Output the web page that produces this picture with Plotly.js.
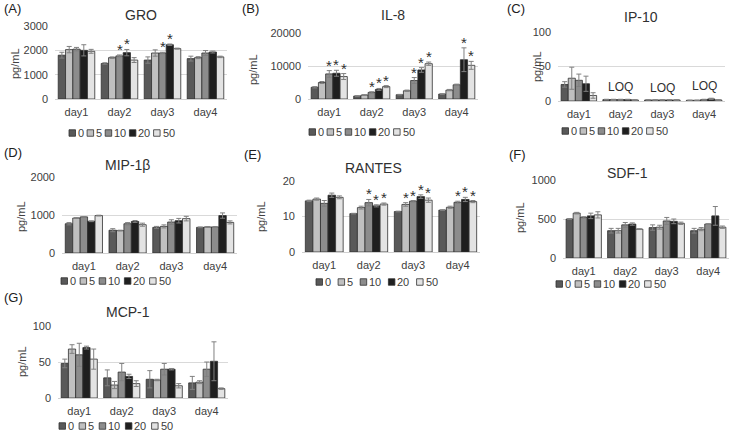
<!DOCTYPE html>
<html><head><meta charset="utf-8">
<script src="https://cdn.plot.ly/plotly-3.0.1.min.js"></script>
<style>html,body{margin:0;padding:0;background:#fff}#chart{width:731px;height:436px}</style>
</head><body><div id="chart"></div>
<script>
// ---------- DATA (rows = days, columns = doses) ----------
const days = ['day1', 'day2', 'day3', 'day4'];
const doses = ['0', '5', '10', '20', '50'];

const groMean = [[1800, 2030, 2050, 2000, 1960], [1460, 1700, 1770, 1905, 1600], [1600, 1890, 1890, 2230, 2070], [1660, 1700, 1890, 1930, 1730]];
const groErr  = [[120, 130, 70, 230, 80], [30, 30, 40, 130, 100], [130, 130, 30, 30, 20], [100, 40, 100, 40, 30]];
const groSig  = [[0, 0, 0, 0, 0], [0, 0, 1, 1, 0], [0, 0, 1, 1, 0], [0, 0, 0, 0, 0]];

const il8Mean = [[3550, 5000, 7600, 7800, 6800], [900, 1200, 2000, 2900, 3750], [1300, 2500, 5600, 8800, 10700], [1500, 2700, 4300, 11900, 10200]];
const il8Err  = [[200, 300, 1000, 900, 900], [100, 100, 200, 300, 300], [100, 200, 900, 700, 500], [100, 200, 200, 3600, 1200]];
const il8Sig  = [[0, 0, 1, 1, 1], [0, 0, 1, 1, 1], [0, 0, 1, 1, 1], [0, 0, 0, 1, 1]];

const ip10Mean = [[24, 33, 30, 25, 8], [2, 2, 2, 2, 1.5], [1.5, 1.5, 1.5, 1.5, 1.5], [1, 1, 2, 3, 1.5]];
const ip10Err  = [[4, 16, 9, 11, 4], [0.5, 0.5, 0.5, 0.5, 0.3], [0.3, 0.3, 0.3, 0.3, 0.3], [0.3, 0.3, 0.5, 1, 0.3]];
const ip10Sig  = [[0, 0, 0, 0, 0], [0, 0, 0, 0, 0], [0, 0, 0, 0, 0], [0, 0, 0, 0, 0]];
const ip10Notes = ['', 'LOQ', 'LOQ', 'LOQ'];

const mipMean = [[770, 920, 950, 835, 985], [600, 590, 770, 830, 745], [675, 700, 815, 850, 905], [675, 685, 685, 985, 805]];
const mipErr  = [[30, 10, 10, 10, 10], [40, 10, 30, 25, 40], [25, 40, 60, 60, 60], [10, 10, 10, 70, 40]];
const mipSig  = [[0, 0, 0, 0, 0], [0, 0, 0, 0, 0], [0, 0, 0, 0, 0], [0, 0, 0, 0, 0]];

const rantesMean = [[14.4, 14.9, 13.7, 16.0, 15.4], [10.8, 12.5, 13.9, 13.0, 13.5], [11.4, 13.4, 14.3, 15.6, 14.6], [11.8, 12.6, 14.0, 14.8, 14.2]];
const rantesErr  = [[0.2, 0.3, 0.8, 0.6, 0.4], [0.1, 0.4, 0.9, 0.3, 0.3], [0.1, 0.5, 0.2, 0.5, 0.6], [0.1, 0.3, 0.3, 0.6, 0.3]];
const rantesSig  = [[0, 0, 0, 0, 0], [0, 0, 1, 1, 1], [0, 1, 1, 1, 1], [0, 0, 1, 1, 1]];

const sdfMean = [[500, 575, 520, 540, 553], [350, 350, 425, 435, 370], [390, 395, 475, 470, 445], [350, 370, 435, 540, 395]];
const sdfErr  = [[5, 10, 10, 35, 40], [30, 30, 30, 15, 5], [35, 25, 45, 30, 15], [30, 20, 5, 120, 15]];
const sdfSig  = [[0, 0, 0, 0, 0], [0, 0, 0, 0, 0], [0, 0, 0, 0, 0], [0, 0, 0, 0, 0]];

const mcpMean = [[48, 68, 60, 70, 54], [28, 18, 36, 30, 20], [26, 25, 40, 40, 17], [21, 22, 40, 51, 13]];
const mcpErr  = [[6, 6, 16, 2, 14], [11, 5, 12, 3, 4], [12, 1, 8, 1, 3], [9, 2, 10, 27, 1]];
const mcpSig  = [[0, 0, 0, 0, 0], [0, 0, 0, 0, 0], [0, 0, 0, 0, 0], [0, 0, 0, 0, 0]];

const panelNames  = ['GRO', 'IL-8', 'IP-10', 'MIP-1β', 'RANTES', 'SDF-1', 'MCP-1'];
const panelLabels = ['(A)', '(B)', '(C)', '(D)', '(E)', '(F)', '(G)'];
const yRanges = [[0, 3000], [0, 20000], [0, 100], [0, 2000], [0, 20], [0, 1000], [0, 100]];
const yDticks = [1000, 10000, 50, 1000, 10, 500, 50];
const unit = 'pg/mL';

// ---------- STYLE / LAYOUT ----------
const W = 731, H = 436;
const FONT = 'Liberation Sans, Arial, sans-serif';
const TXT = '#404040';
const doseColors = ['#595959', '#c0c0c0', '#8c8c8c', '#1f1f1f', '#e3e3e3'];
const BARGAP = 0.15;
const px = x => x / W, py = y => 1 - y / H;

// pixel boxes: plot [left,right,top,bottom], title [x,y], label [x,y], ytitle [x,y], legend [x,y], legend spacing
const geom = [
  {box: [55, 227, 26, 99],   title: [141, 15], lab: [2, 8],     yt: [15, 64],  leg: [69, 133],  gap: 4},
  {box: [308, 478, 33, 99],  title: [393, 15], lab: [240, 8],   yt: [253, 70], leg: [309, 132], gap: 4},
  {box: [558, 725, 32, 101], title: [641, 17], lab: [505, 8],   yt: [537, 67], leg: [562, 131], gap: 4},
  {box: [62, 237, 177, 253], title: [127, 165], lab: [2, 152],  yt: [21, 217], leg: [61, 281],  gap: 5},
  {box: [302, 480, 181, 252], title: [373, 168], lab: [242, 154], yt: [261, 217], leg: [316, 282], gap: 8},
  {box: [563, 729, 180, 258], title: [627, 173], lab: [507, 155], yt: [520, 218], leg: [556, 284], gap: 5},
  {box: [58, 228, 326, 398], title: [128, 312], lab: [2, 297],  yt: [22, 362], leg: [59, 426],  gap: 6}
];

const means = [groMean, il8Mean, ip10Mean, mipMean, rantesMean, sdfMean, mcpMean];
const errs  = [groErr, il8Err, ip10Err, mipErr, rantesErr, sdfErr, mcpErr];
const sigs  = [groSig, il8Sig, ip10Sig, mipSig, rantesSig, sdfSig, mcpSig];

const traces = [];
const annotations = [];
const shapes = [];
const layout = {
  width: W, height: H, margin: {l: 0, r: 0, t: 0, b: 0},
  paper_bgcolor: '#fff', plot_bgcolor: '#fff',
  barmode: 'group', bargap: BARGAP, bargroupgap: 0,
  showlegend: false,
  font: {family: FONT, color: TXT, size: 11},
  annotations: annotations, shapes: shapes
};

const barW = (1 - BARGAP) / doses.length;
const offsetOf = i => -(1 - BARGAP) / 2 + barW * (i + 0.5);

for (let k = 0; k < 7; k++) {
  const n = k + 1;
  const g = geom[k];
  const xa = 'x' + (n === 1 ? '' : n), ya = 'y' + (n === 1 ? '' : n);
  const xk = 'xaxis' + (n === 1 ? '' : n), yk = 'yaxis' + (n === 1 ? '' : n);
  layout[xk] = {
    domain: [px(g.box[0]), px(g.box[1])], anchor: ya,
    type: 'category', categoryorder: 'array', categoryarray: days,
    showline: true, linecolor: '#d0d0d0', linewidth: 1,
    ticks: '', showgrid: false, zeroline: false,
    tickfont: {size: 11, color: TXT, family: FONT}, ticklabelstandoff: 3, fixedrange: true
  };
  layout[yk] = {
    domain: [py(g.box[3]), py(g.box[2])], anchor: xa,
    range: yRanges[k], dtick: yDticks[k], tick0: 0, tickformat: 'd',
    showgrid: true, gridcolor: '#d9d9d9', gridwidth: 1, zeroline: false, showline: false,
    ticks: '', tickfont: {size: 11, color: TXT, family: FONT}, ticklabelstandoff: 6, fixedrange: true
  };
  for (let i = 0; i < doses.length; i++) {
    traces.push({
      type: 'bar', name: doses[i], x: days,
      y: means[k].map(d => d[i]),
      error_y: {type: 'data', symmetric: true, array: errs[k].map(d => d[i]), color: '#808080', thickness: 1, width: 2.5},
      marker: {color: doseColors[i], line: {color: '#303030', width: 0.8}},
      xaxis: xa, yaxis: ya, hoverinfo: 'x+y+name'
    });
  }
  // significance asterisks
  sigs[k].forEach((row, d) => row.forEach((s, i) => {
    if (!s) return;
    annotations.push({
      xref: xa, yref: ya, x: d + offsetOf(i), y: means[k][d][i] + errs[k][d][i],
      text: '*', showarrow: false, yanchor: 'bottom', yshift: -5,
      font: {size: 15, color: '#303030', family: FONT}
    });
  }));
  // panel title & label & y title
  annotations.push({xref: 'paper', yref: 'paper', x: px(g.title[0]), y: py(g.title[1]), text: panelNames[k],
    showarrow: false, xanchor: 'center', yanchor: 'middle', font: {size: 14, color: '#303030', family: FONT}});
  annotations.push({xref: 'paper', yref: 'paper', x: px(g.lab[0]), y: py(g.lab[1]), text: panelLabels[k],
    showarrow: false, xanchor: 'left', yanchor: 'middle', font: {size: 13, color: '#202020', family: FONT}});
  annotations.push({xref: 'paper', yref: 'paper', x: px(g.yt[0]), y: py(g.yt[1]), text: unit, textangle: -90,
    showarrow: false, xanchor: 'center', yanchor: 'middle', font: {size: 11, color: TXT, family: FONT}});
  // legend (compact, Excel-style)
  let lx = g.leg[0];
  for (let i = 0; i < doses.length; i++) {
    shapes.push({type: 'rect', xref: 'paper', yref: 'paper',
      x0: px(lx), x1: px(lx + 6.5), y0: py(g.leg[1] + 3.25), y1: py(g.leg[1] - 3.25),
      fillcolor: doseColors[i], line: {color: '#303030', width: 0.8}});
    annotations.push({xref: 'paper', yref: 'paper', x: px(lx + 7), y: py(g.leg[1]), text: doses[i],
      showarrow: false, xanchor: 'left', yanchor: 'middle', font: {size: 11, color: TXT, family: FONT}});
    lx += 8 + doses[i].length * 6.1 + g.gap;
  }
}
// LOQ notes in IP-10 panel
ip10Notes.forEach((t, d) => {
  if (!t) return;
  const top = Math.max(...ip10Mean[d].map((v, i) => v + ip10Err[d][i]));
  annotations.push({xref: 'x3', yref: 'y3', x: days[d], y: top, text: t, showarrow: false,
    yanchor: 'bottom', yshift: 3, font: {size: 12, color: '#303030', family: FONT}});
});

Plotly.newPlot('chart', traces, layout, {displayModeBar: false, staticPlot: true});
</script>
</body></html>
